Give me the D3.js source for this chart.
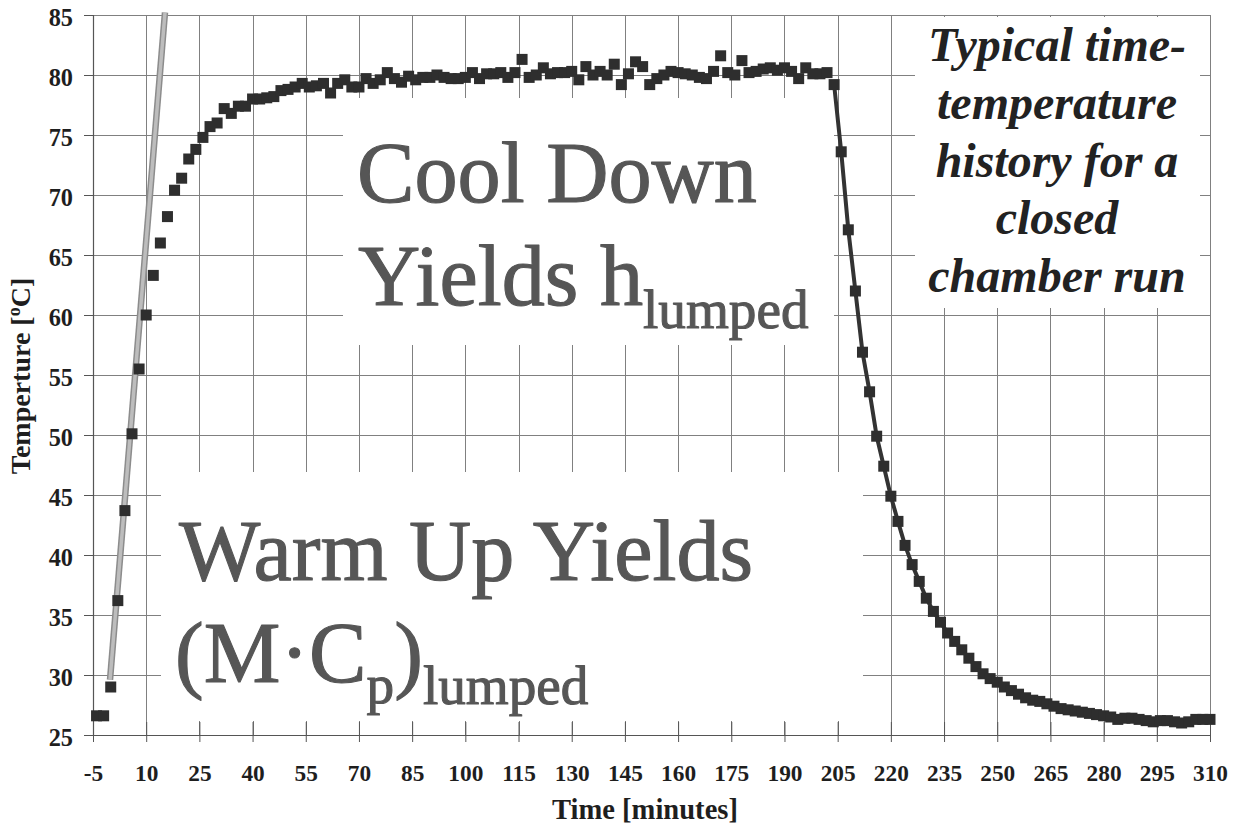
<!DOCTYPE html>
<html>
<head>
<meta charset="utf-8">
<script src="https://cdn.jsdelivr.net/npm/d3@7"></script>
<style>
  html, body { margin: 0; padding: 0; background: #ffffff; }
  svg { display: block; }
</style>
</head>
<body>
<script>
// Sample times [minutes] for the closed chamber run
const times = [
  -4, -2, 0, 2, 4, 6, 8, 10, 12, 14, 16, 18, 20, 22, 24, 26, 28, 30, 32, 34,
  36, 38, 40, 42, 44, 46, 48, 50, 52, 54, 56, 58, 60, 62, 64, 66, 68, 70, 72, 74,
  76, 78, 80, 82, 84, 86, 88, 90, 92, 94, 96, 98, 100, 102, 104, 106, 108, 110, 112, 114,
  116, 118, 120, 122, 124, 126, 128, 130, 132, 134, 136, 138, 140, 142, 144, 146, 148, 150, 152, 154,
  156, 158, 160, 162, 164, 166, 168, 170, 172, 174, 176, 178, 180, 182, 184, 186, 188, 190, 192, 194,
  196, 198, 200, 202, 204, 206, 208, 210, 212, 214, 216, 218, 220, 222, 224, 226, 228, 230, 232, 234,
  236, 238, 240, 242, 244, 246, 248, 250, 252, 254, 256, 258, 260, 262, 264, 266, 268, 270, 272, 274,
  276, 278, 280, 282, 284, 286, 288, 290, 292, 294, 296, 298, 300, 302, 304, 306, 308, 310
];

// Measured chamber temperature [°C] at each sample time
const temps = [
  26.6, 26.6, 29.0, 36.2, 43.7, 50.1, 55.5, 60.0, 63.3, 66.0, 68.2, 70.4, 71.4, 73.0, 73.8, 74.8, 75.7, 76.0, 77.2, 76.8,
  77.4, 77.4, 78.0, 78.0, 78.1, 78.2, 78.7, 78.8, 79.0, 79.3, 79.0, 79.1, 79.3, 78.5, 79.3, 79.6, 79.0, 79.0, 79.7, 79.3,
  79.6, 80.2, 79.7, 79.4, 79.9, 79.6, 79.8, 79.8, 80.0, 79.8, 79.7, 79.7, 79.8, 80.2, 79.7, 80.1, 80.1, 80.2, 79.8, 80.2,
  81.3, 79.8, 80.0, 80.6, 80.1, 80.2, 80.2, 80.3, 79.6, 80.7, 80.0, 80.3, 80.0, 80.9, 79.2, 80.1, 81.1, 80.7, 79.2, 79.7,
  80.0, 80.3, 80.2, 80.1, 80.0, 79.8, 79.7, 80.3, 81.6, 80.2, 80.0, 81.2, 80.2, 80.3, 80.5, 80.6, 80.4, 80.6, 80.3, 79.7,
  80.6, 80.1, 80.1, 80.2, 79.2, 73.6, 67.1, 62.0, 56.9, 53.6, 49.9, 47.4, 44.9, 42.8, 40.8, 39.2, 37.8, 36.4, 35.3, 34.4,
  33.5, 32.8, 32.1, 31.4, 30.7, 30.1, 29.7, 29.4, 29.0, 28.7, 28.4, 28.1, 27.9, 27.8, 27.6, 27.4, 27.2, 27.1, 27.0, 26.9,
  26.8, 26.7, 26.6, 26.5, 26.3, 26.4, 26.4, 26.3, 26.2, 26.1, 26.2, 26.2, 26.1, 26.0, 26.1, 26.3, 26.3, 26.3
];

// Start of the cool-down segment (joined by a line)
const coolDownStart = 204;

// Straight-line fit through the initial warm-up
const fitTimes = [-0.2, 15.3];
const fitTemps = [29.6, 85.2];

// Axis ticks
const xTicks = [-5, 10, 25, 40, 55, 70, 85, 100, 115, 130, 145, 160, 175, 190, 205, 220, 235, 250, 265, 280, 295, 310];
const yTicks = [25, 30, 35, 40, 45, 50, 55, 60, 65, 70, 75, 80, 85];

const xTitle = "Time [minutes]";
const noteLines = ["Typical time-", "temperature", "history for a", "closed", "chamber run"];

const W = 1237, H = 826;
const svg = d3.select("body").append("svg").attr("width", W).attr("height", H);

// ---- font selection: first family whose capital "I" really has serifs in that weight/style
function hasSerifs(family, weight, style) {
  const S = 320;
  const c = document.createElement("canvas");
  c.width = S; c.height = S;
  const ctx = c.getContext("2d");
  ctx.fillStyle = "#fff"; ctx.fillRect(0, 0, S, S);
  ctx.fillStyle = "#000";
  ctx.font = `${style} ${weight} 200px ${family}`;
  ctx.textBaseline = "alphabetic";
  ctx.fillText("I", 120, 260);
  const img = ctx.getImageData(0, 0, S, S).data;
  const rowWidth = yy => {
    let lo = S, hi = -1;
    for (let xx = 0; xx < S; xx++) {
      if (img[(yy * S + xx) * 4] < 128) { lo = Math.min(lo, xx); hi = Math.max(hi, xx); }
    }
    return hi >= lo ? hi - lo + 1 : 0;
  };
  const foot = rowWidth(257), stem = rowWidth(195);
  return stem > 0 && foot > stem * 1.6;
}
function pickSerif(weight, style) {
  const candidates = ["Liberation Serif", "Tinos", "Times New Roman", "Times", "DejaVu Serif", "Noto Serif", "FreeSerif", "Nimbus Roman", "serif"];
  for (const c of candidates) {
    const fam = c === "serif" ? c : `"${c}"`;
    if (hasSerifs(fam, weight, style)) return fam;
  }
  return '"Liberation Serif", serif';
}
const famRegular = pickSerif("normal", "normal");
const famBold = pickSerif("bold", "normal");
const famBoldItalic = pickSerif("bold", "italic");

// scale a font size so that a sample string spans the intended width
const probe = svg.append("text").attr("x", -9999).attr("y", -9999);
function fitSize(family, weight, style, sample, size, target) {
  probe.text(sample).style("font-size", size + "px")
    .style("font-family", family).style("font-weight", weight).style("font-style", style);
  const w = probe.node().getComputedTextLength();
  return w > 0 ? size * target / w : size;
}
const bigFont = fitSize(famRegular, "normal", "normal", "Cool Down", 86, 400);
const noteFont = fitSize(famBoldItalic, "bold", "italic", "temperature", 48, 240);
const xTitleFont = fitSize(famBold, "bold", "normal", "Time [minutes]", 28, 186);
const xTickFont = fitSize(famBold, "bold", "normal", "100", 24, 35);
probe.remove();

const x = d3.scaleLinear().domain([-5, 310]).range([93, 1210]);
const y = d3.scaleLinear().domain([25, 85]).range([735, 15]);

const points = times.map((t, i) => ({ t, v: temps[i] }));

// Grid
const grid = svg.append("g").attr("stroke", "#808080").attr("stroke-width", 1).attr("shape-rendering", "crispEdges");
grid.selectAll("line.v").data(xTicks).join("line").attr("class", "v")
  .attr("x1", d => Math.round(x(d)) + 0.5).attr("x2", d => Math.round(x(d)) + 0.5)
  .attr("y1", y(85)).attr("y2", y(25));
grid.selectAll("line.h").data(yTicks).join("line").attr("class", "h")
  .attr("x1", x(-5)).attr("x2", x(310))
  .attr("y1", d => Math.round(y(d)) + 0.5).attr("y2", d => Math.round(y(d)) + 0.5);

// White annotation panels laid over the grid
const panels = [
  { x0: 343, y0: 98, x1: 834, y1: 345 },
  { x0: 161, y0: 472, x1: 863, y1: 721 },
  { x0: 915, y0: 17, x1: 1200, y1: 308 }
];
svg.append("g").selectAll("rect").data(panels).join("rect")
  .attr("x", d => d.x0).attr("y", d => d.y0)
  .attr("width", d => d.x1 - d.x0).attr("height", d => d.y1 - d.y0)
  .attr("fill", "#ffffff");

// X axis: ticks crossing the axis line
const xAxis = d3.axisBottom(x).tickValues(xTicks).tickSize(20).tickFormat(d => String(d));
const gx = svg.append("g").attr("transform", "translate(0,722)").call(xAxis);
gx.select(".domain").remove();
gx.selectAll(".tick line").attr("stroke", "#555");
gx.selectAll(".tick text")
  .attr("y", 59).attr("dy", 0)
  .attr("fill", "#1e1e1e")
  .style("font-family", famBold)
  .style("font-size", xTickFont + "px").style("font-weight", "bold");

// Y axis
const yAxis = d3.axisLeft(y).tickValues(yTicks).tickSize(9).tickPadding(11).tickFormat(d => String(d));
const gy = svg.append("g").attr("transform", "translate(93,0)").call(yAxis);
gy.select(".domain").remove();
gy.selectAll(".tick line").attr("stroke", "#555");
gy.selectAll(".tick text")
  .attr("dy", "0.42em")
  .attr("fill", "#1e1e1e")
  .style("font-family", famBold)
  .style("font-size", (xTickFont * 25 / 24) + "px").style("font-weight", "bold");

// Axis lines
svg.append("line").attr("x1", 93.5).attr("x2", 93.5).attr("y1", y(85)).attr("y2", y(25))
  .attr("stroke", "#555").attr("stroke-width", 1.2);
svg.append("line").attr("x1", x(-5)).attr("x2", x(310)).attr("y1", 735.5).attr("y2", 735.5)
  .attr("stroke", "#555").attr("stroke-width", 1.2);

// Axis titles
svg.append("text").attr("x", 645).attr("y", 819).attr("text-anchor", "middle").attr("fill", "#1e1e1e")
  .style("font-family", famBold).style("font-size", xTitleFont + "px").style("font-weight", "bold")
  .text(xTitle);

const yTitle = svg.append("text")
  .attr("transform", "translate(30,376) rotate(-90)").attr("text-anchor", "middle").attr("fill", "#1e1e1e")
  .style("font-family", famBold).style("font-size", "28px").style("font-weight", "bold");
yTitle.append("tspan").text("Temperture [");
yTitle.append("tspan").attr("dy", -10).style("font-size", "18px").text("o");
yTitle.append("tspan").attr("dy", 10).text("C]");

// Large annotations (slightly heavier strokes)
const big = { size: bigFont, sub: bigFont * 0.64, fill: "#565656" };
function bigText(xp, yp) {
  return svg.append("text").attr("x", xp).attr("y", yp).attr("fill", big.fill)
    .attr("stroke", big.fill).attr("stroke-width", 1.1).attr("stroke-linejoin", "round")
    .style("font-family", famRegular).style("font-weight", "normal")
    .style("font-size", big.size + "px");
}
bigText(357, 202).text("Cool Down");
const cd2 = bigText(358, 305);
cd2.append("tspan").text("Yields h");
cd2.append("tspan").attr("dy", 23).style("font-size", big.sub + "px").text("lumped");

bigText(179, 580).text("Warm Up Yields");
const wu2 = bigText(175, 682);
wu2.append("tspan").text("(M\u00B7C");
wu2.append("tspan").attr("dy", 21).style("font-size", big.sub + "px").text("p");
wu2.append("tspan").attr("dy", -21).text(")");
wu2.append("tspan").attr("dy", 22).style("font-size", big.sub + "px").text("lumped");

// Run description
svg.append("g").selectAll("text").data(noteLines).join("text")
  .attr("x", 1057).attr("y", (d, i) => 61 + i * 57.8)
  .attr("text-anchor", "middle").attr("fill", "#222")
  .style("font-family", famBoldItalic)
  .style("font-size", noteFont + "px").style("font-weight", "bold").style("font-style", "italic")
  .text(d => d);

// Warm-up fit line
const fitPts = fitTimes.map((t, i) => ({ t, v: fitTemps[i] }));
const line = d3.line().x(d => x(d.t)).y(d => y(d.v));
svg.append("path").datum(fitPts).attr("d", line)
  .attr("fill", "none").attr("stroke", "#8c8c8c").attr("stroke-width", 6.5);
svg.append("path").datum(fitPts).attr("d", line)
  .attr("fill", "none").attr("stroke", "#bdbdbd").attr("stroke-width", 3.5);

// Cool-down connecting line
const coolPts = points.filter(d => d.t >= coolDownStart);
svg.append("path").datum(coolPts).attr("d", line)
  .attr("fill", "none").attr("stroke", "#333").attr("stroke-width", 4)
  .attr("stroke-linejoin", "round");

// Markers
const ms = 11;
svg.append("g").selectAll("rect").data(points).join("rect")
  .attr("x", d => x(d.t) - ms / 2).attr("y", d => y(d.v) - ms / 2)
  .attr("width", ms).attr("height", ms)
  .attr("fill", "#2e2e2e");
</script>
</body>
</html>
